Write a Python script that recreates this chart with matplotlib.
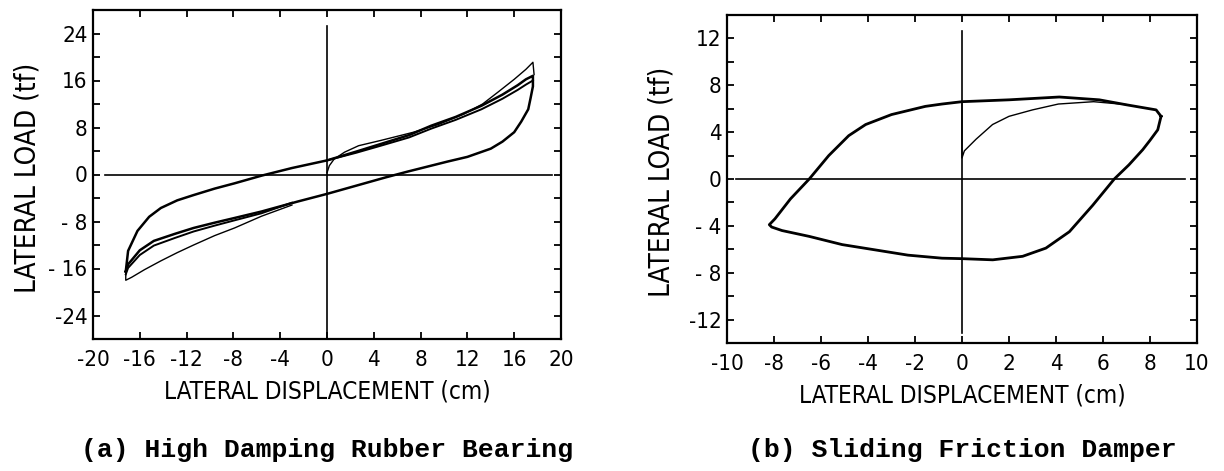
import matplotlib
matplotlib.use("Agg")
import matplotlib.pyplot as plt
from matplotlib.ticker import FixedLocator, MultipleLocator

# (a) high damping rubber bearing, displacement (cm) / load (tf)
hdr_first_x = [0.0, 0.2, 0.6, 1.5, 2.7, 4.6, 7.4, 9.5, 11.7, 13.3, 14.6, 16.0, 17.0, 17.6, 17.7]
hdr_first_y = [0.3, 1.5, 2.6, 3.8, 4.9, 5.8, 7.2, 8.5, 10.3, 12.0, 14.0, 16.2, 17.9, 19.1, 17.0]

hdr_loop_x = [-17.2, -17.0, -16.2, -15.2, -14.2, -12.8, -11.4, -9.6, -7.9, -5.6, -3.0, 0.0,
              2.5, 4.6, 7.0, 8.9, 11.0, 13.2, 15.0, 16.3, 17.0, 17.6, 17.6, 17.4, 17.2, 16.6,
              16.0, 15.0, 14.0, 12.0, 10.3, 8.5, 6.9, 5.0, 2.5, 0.0, -2.5, -5.6, -7.9, -9.6,
              -11.4, -13.0, -14.8, -16.0, -17.0, -17.2]
hdr_loop_y = [-16.5, -13.0, -9.6, -7.2, -5.7, -4.4, -3.5, -2.4, -1.5, -0.2, 1.1, 2.4,
              3.9, 5.2, 6.7, 8.3, 9.8, 11.7, 13.6, 15.2, 16.2, 16.8, 15.0, 13.0, 11.1, 9.0,
              7.2, 5.6, 4.4, 3.0, 2.2, 1.3, 0.5, -0.5, -1.9, -3.3, -4.6, -6.3, -7.4, -8.2,
              -9.1, -10.1, -11.3, -12.9, -15.3, -16.5]

hdr_up2_x = [0.0, 2.5, 4.6, 7.0, 8.9, 11.0, 13.2, 15.0, 16.3, 17.0, 17.6]
hdr_up2_y = [2.4, 3.7, 4.9, 6.3, 7.8, 9.3, 11.1, 12.9, 14.4, 15.3, 16.0]

hdr_low2_x = [-3.0, -5.6, -7.9, -9.6, -11.4, -13.0, -14.8, -16.0, -17.0, -17.2]
hdr_low2_y = [-4.8, -6.6, -7.8, -8.7, -9.7, -10.8, -12.1, -13.7, -15.9, -17.0]

hdr_outer_x = [-3.0, -5.6, -7.9, -9.6, -11.4, -12.8, -14.2, -15.6, -16.7, -17.2, -17.2]
hdr_outer_y = [-5.2, -7.1, -9.1, -10.4, -12.0, -13.3, -14.7, -16.2, -17.5, -18.0, -16.5]

# (b) sliding friction damper
sfd_init_x = [0.0, 0.0, 0.1, 0.6, 1.3, 2.0, 3.0, 4.1, 5.6, 7.0]
sfd_init_y = [6.4, 1.8, 2.4, 3.4, 4.65, 5.35, 5.9, 6.4, 6.6, 6.35]

sfd_loop_x = [8.47, 8.33, 8.0, 7.69, 7.1, 6.48, 5.56, 4.57, 3.57, 2.58, 1.31, 0.0, -0.85,
              -2.3, -3.7, -5.1, -6.5, -7.66, -8.1, -8.2, -7.96, -7.3, -6.5, -5.67, -4.82,
              -4.1, -3.0, -1.56, -0.85, 0.0, 2.01, 4.14, 5.84, 6.98, 8.26, 8.47]
sfd_loop_y = [5.35, 4.2, 3.3, 2.5, 1.2, 0.0, -2.25, -4.5, -5.9, -6.6, -6.9, -6.8, -6.76,
              -6.5, -6.05, -5.6, -4.9, -4.4, -4.1, -3.9, -3.4, -1.7, 0.0, 2.0, 3.7,
              4.65, 5.5, 6.2, 6.4, 6.6, 6.76, 7.0, 6.76, 6.34, 5.9, 5.35]

left_yticks = [-24, -16, -8, 0, 8, 16, 24]
left_ylabels = ['-24', '- 16', '- 8', '0', '8', '16', '24']
left_xticks = [-20, -16, -12, -8, -4, 0, 4, 8, 12, 16, 20]
right_yticks = [-12, -8, -4, 0, 4, 8, 12]
right_ylabels = ['-12', '- 8', '- 4', '0', '4', '8', '12']
right_xticks = [-10, -8, -6, -4, -2, 0, 2, 4, 6, 8, 10]

plt.rcParams['font.family'] = ['DejaVu Sans']
plt.rcParams['font.stretch'] = 'condensed'

fig = plt.figure(figsize=(12.24, 4.71), dpi=100)
ax1 = fig.add_axes([93 / 1224, 1 - 339 / 471, 468 / 1224, 329 / 471])
ax2 = fig.add_axes([727 / 1224, 1 - 343 / 471, 470 / 1224, 328 / 471])


def style(ax, xticks, yticks, ylabels, ystep, xlim, ylim):
    ax.set_xlim(*xlim)
    ax.set_ylim(*ylim)
    ax.xaxis.set_major_locator(FixedLocator(xticks))
    ax.set_xticklabels([str(t) for t in xticks])
    ax.yaxis.set_major_locator(FixedLocator(yticks))
    ax.set_yticklabels(ylabels)
    ax.yaxis.set_minor_locator(MultipleLocator(ystep))
    ax.tick_params(which='both', direction='in', top=True, right=True,
                   length=5, width=1.3, labelsize=16)
    ax.tick_params(axis='x', pad=8)
    ax.tick_params(axis='y', pad=4)
    for s in ax.spines.values():
        s.set_linewidth(1.6)
    ax.set_xlabel('LATERAL DISPLACEMENT (cm)', fontsize=17.5, labelpad=7)
    ax.set_ylabel('LATERAL LOAD (tf)', fontsize=20)
    ax.yaxis.set_label_coords(-0.11, 0.49)


style(ax1, left_xticks, left_yticks, left_ylabels, 4, (-20, 20), (-28, 28))
style(ax2, right_xticks, right_yticks, right_ylabels, 2, (-10, 10), (-14, 14))

ax1.axhline(0, xmin=0.025, xmax=0.98, color='black', lw=1.2)
ax1.axvline(0, ymin=0.0, ymax=0.95, color='black', lw=1.2)
ax2.axhline(0, xmin=0.02, xmax=0.975, color='black', lw=1.2)
ax2.axvline(0, ymin=0.03, ymax=0.95, color='black', lw=1.2)

ax1.plot(hdr_first_x, hdr_first_y, color='black', lw=1.0)
ax1.plot(hdr_loop_x, hdr_loop_y, color='black', lw=1.8)
ax1.plot(hdr_up2_x, hdr_up2_y, color='black', lw=1.4)
ax1.plot(hdr_low2_x, hdr_low2_y, color='black', lw=1.4)
ax1.plot(hdr_outer_x, hdr_outer_y, color='black', lw=1.0)

ax2.plot(sfd_init_x, sfd_init_y, color='black', lw=1.0)
ax2.plot(sfd_loop_x, sfd_loop_y, color='black', lw=2.0)

fig.text(327 / 1224, 1 - 450 / 471, '(a) High Damping Rubber Bearing',
         family=['Liberation Mono', 'DejaVu Sans Mono'], fontsize=19, weight='bold',
         stretch='normal', ha='center', va='center')
fig.text(962 / 1224, 1 - 450 / 471, '(b) Sliding Friction Damper',
         family=['Liberation Mono', 'DejaVu Sans Mono'], fontsize=19, weight='bold',
         stretch='normal', ha='center', va='center')

fig.savefig('out.png', dpi=100)
